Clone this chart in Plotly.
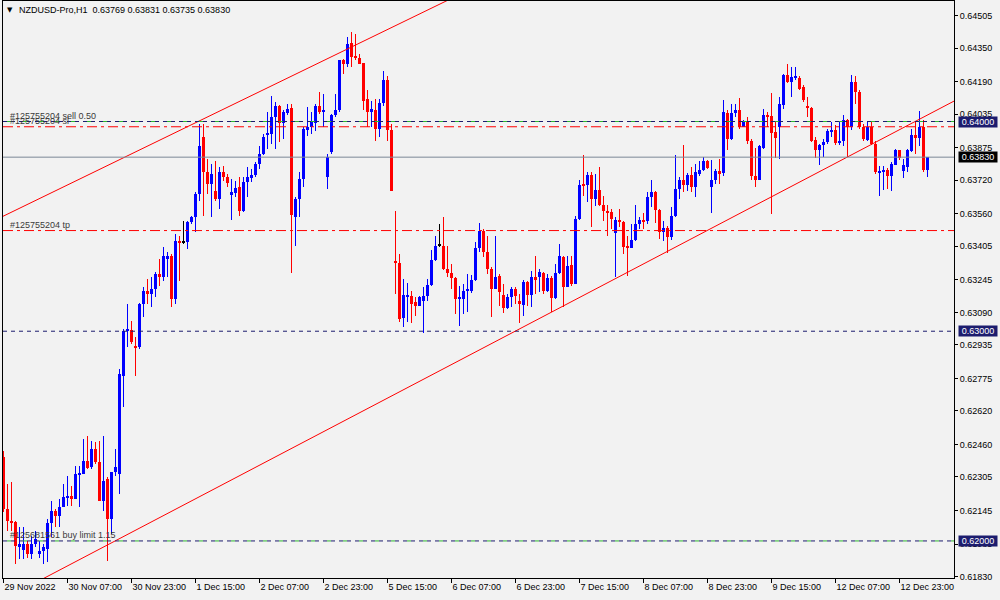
import plotly.graph_objects as go

# ---------------- data (NZDUSD H1) ----------------
opens = [0.62398,0.62152,0.62096,0.62088,0.61969,0.61956,0.61985,0.61937,0.61985,0.61940,
0.61950,0.61961,0.62084,0.62144,0.62120,0.62160,0.62208,0.62216,0.62200,0.62317,
0.62321,0.62379,0.62351,0.62438,0.62375,0.62192,0.62295,0.62104,0.62327,0.62321,
0.62788,0.62999,0.63006,0.62931,0.62923,0.63130,0.63193,0.63177,0.63201,0.63273,
0.63257,0.63344,0.63360,0.63154,0.63432,0.63424,0.63424,0.63519,0.63543,0.63655,
0.63925,0.63758,0.63702,0.63670,0.63631,0.63758,0.63737,0.63651,0.63658,0.63690,
0.63575,0.63711,0.63731,0.63747,0.63798,0.63843,0.63938,0.63941,0.64021,0.64076,
0.63992,0.64040,0.64065,0.63544,0.63631,0.63726,0.63960,0.63973,0.63992,0.64076,
0.64045,0.63734,0.63854,0.64033,0.64053,0.64291,0.64275,0.64375,0.64307,0.64304,
0.64281,0.64105,0.64045,0.64057,0.63962,0.64087,0.64199,0.63960,0.63337,0.63326,
0.63063,0.63167,0.63170,0.63138,0.63121,0.63146,0.63167,0.63222,0.63341,0.63408,
0.63408,0.63297,0.63276,0.63254,0.63154,0.63154,0.63190,0.63194,0.63244,0.63397,
0.63477,0.63376,0.63297,0.63201,0.63265,0.63174,0.63109,0.63165,0.63202,0.63146,
0.63127,0.63236,0.63173,0.63260,0.63257,0.63276,0.63190,0.63254,0.63159,0.63276,
0.63356,0.63213,0.63318,0.63225,0.63535,0.63699,0.63696,0.63747,0.63631,0.63674,
0.63604,0.63575,0.63570,0.63467,0.63532,0.63520,0.63400,0.63397,0.63435,0.63512,
0.63532,0.63524,0.63642,0.63666,0.63580,0.63472,0.63492,0.63448,0.63551,0.63679,
0.63721,0.63699,0.63747,0.63690,0.63750,0.63769,0.63811,0.63687,0.63719,0.63762,
0.63754,0.64040,0.63917,0.64040,0.64053,0.63976,0.64000,0.63909,0.63742,0.63722,
0.63874,0.64033,0.64024,0.63949,0.63976,0.64080,0.64224,0.64188,0.64208,0.64208,
0.64164,0.64076,0.64065,0.63913,0.63865,0.63886,0.63901,0.63949,0.63960,0.63897,
0.63909,0.64005,0.63976,0.64188,0.64140,0.63976,0.63913,0.63976,0.63894,0.63758,
0.63763,0.63769,0.63738,0.63795,0.63862,0.63766,0.63782,0.63859,0.63938,0.63920,
0.63973,0.63769]

highs = [0.62427,0.62271,0.62279,0.62097,0.62065,0.62065,0.62001,0.62025,0.62049,0.62001,
0.61985,0.62104,0.62192,0.62152,0.62200,0.62271,0.62311,0.62263,0.62359,0.62359,
0.62486,0.62502,0.62478,0.62470,0.62478,0.62502,0.62303,0.62327,0.62438,0.62820,
0.63011,0.63130,0.63050,0.62971,0.63133,0.63209,0.63249,0.63257,0.63281,0.63344,
0.63403,0.63376,0.63368,0.63464,0.63456,0.63527,0.63527,0.63551,0.63662,0.63988,
0.63988,0.63822,0.63798,0.63814,0.63782,0.63790,0.63750,0.63726,0.63718,0.63734,
0.63734,0.63782,0.63774,0.63806,0.63881,0.63941,0.64045,0.64124,0.64092,0.64081,
0.64053,0.64084,0.64084,0.63639,0.63758,0.63973,0.64068,0.64045,0.64084,0.64140,
0.64132,0.63846,0.64037,0.64132,0.64294,0.64299,0.64405,0.64426,0.64415,0.64323,
0.64281,0.64148,0.64097,0.64105,0.64108,0.64243,0.64219,0.63989,0.63575,0.63369,
0.63249,0.63230,0.63194,0.63162,0.63170,0.63210,0.63249,0.63388,0.63456,0.63512,
0.63547,0.63408,0.63321,0.63257,0.63218,0.63225,0.63273,0.63270,0.63424,0.63515,
0.63488,0.63456,0.63305,0.63456,0.63273,0.63225,0.63178,0.63209,0.63209,0.63178,
0.63244,0.63241,0.63289,0.63361,0.63297,0.63281,0.63273,0.63265,0.63321,0.63416,
0.63361,0.63361,0.63361,0.63551,0.63721,0.63842,0.63758,0.63758,0.63750,0.63782,
0.63647,0.63600,0.63583,0.63543,0.63583,0.63527,0.63456,0.63512,0.63604,0.63543,
0.63562,0.63663,0.63721,0.63671,0.63583,0.63527,0.63504,0.63594,0.63838,0.63737,
0.63890,0.63753,0.63785,0.63798,0.63814,0.63830,0.63817,0.63817,0.63774,0.63822,
0.64103,0.64053,0.64084,0.64084,0.64113,0.64008,0.64021,0.63917,0.63874,0.63886,
0.64060,0.64045,0.64135,0.63997,0.64119,0.64227,0.64272,0.64259,0.64259,0.64219,
0.64172,0.64116,0.64068,0.63925,0.63894,0.63917,0.63965,0.63997,0.63981,0.63997,
0.64029,0.64013,0.64224,0.64219,0.64148,0.63989,0.63997,0.63997,0.63909,0.63790,
0.63790,0.63779,0.63806,0.63870,0.63865,0.63822,0.63870,0.63965,0.63998,0.64048,
0.64008,0.63831]

lows = [0.62136,0.62049,0.62049,0.61890,0.61914,0.61914,0.61921,0.61914,0.61969,0.61921,
0.61890,0.61898,0.62017,0.62065,0.62065,0.62160,0.62168,0.62168,0.62200,0.62160,
0.62321,0.62343,0.62343,0.62367,0.62192,0.62144,0.61906,0.62033,0.62311,0.62224,
0.62637,0.62923,0.62939,0.62788,0.62915,0.63066,0.63130,0.63114,0.63162,0.63217,
0.63241,0.63257,0.63114,0.63130,0.63241,0.63416,0.63392,0.63511,0.63472,0.63623,
0.63551,0.63655,0.63543,0.63623,0.63583,0.63718,0.63686,0.63531,0.63639,0.63551,
0.63567,0.63639,0.63711,0.63734,0.63774,0.63838,0.63870,0.63893,0.63870,0.63901,
0.63917,0.64029,0.63277,0.63408,0.63544,0.63687,0.63933,0.63941,0.63957,0.64037,
0.63973,0.63676,0.63846,0.64021,0.64045,0.64227,0.64259,0.64262,0.64291,0.64272,
0.64053,0.63973,0.63973,0.63906,0.63925,0.64076,0.63909,0.63668,0.63178,0.63043,
0.63019,0.63043,0.63038,0.63072,0.63121,0.62990,0.63143,0.63214,0.63334,0.63404,
0.63292,0.63257,0.63202,0.63083,0.63027,0.63083,0.63090,0.63181,0.63241,0.63376,
0.63353,0.63273,0.63070,0.63201,0.63122,0.63086,0.63106,0.63117,0.63130,0.63038,
0.63074,0.63122,0.63114,0.63178,0.63186,0.63178,0.63186,0.63090,0.63154,0.63273,
0.63114,0.63209,0.63217,0.63225,0.63531,0.63647,0.63615,0.63496,0.63599,0.63599,
0.63527,0.63456,0.63488,0.63257,0.63496,0.63369,0.63265,0.63397,0.63432,0.63488,
0.63488,0.63512,0.63591,0.63515,0.63440,0.63432,0.63372,0.63435,0.63546,0.63631,
0.63663,0.63671,0.63663,0.63639,0.63742,0.63766,0.63774,0.63563,0.63703,0.63703,
0.63742,0.63865,0.63913,0.64021,0.63965,0.63973,0.63894,0.63722,0.63687,0.63719,
0.63870,0.63973,0.63560,0.63827,0.63822,0.64060,0.64183,0.64116,0.64199,0.64148,
0.64092,0.64021,0.63901,0.63827,0.63793,0.63830,0.63894,0.63925,0.63886,0.63886,
0.63881,0.63830,0.63960,0.64084,0.63965,0.63909,0.63909,0.63886,0.63750,0.63647,
0.63674,0.63679,0.63671,0.63795,0.63817,0.63731,0.63758,0.63855,0.63846,0.63881,
0.63757,0.63735]

closes = [0.62152,0.62096,0.62087,0.61977,0.61985,0.61985,0.61937,0.61985,0.62009,0.61950,
0.61972,0.62084,0.62144,0.62120,0.62160,0.62211,0.62216,0.62200,0.62321,0.62323,
0.62379,0.62347,0.62438,0.62375,0.62192,0.62287,0.62104,0.62327,0.62351,0.62796,
0.63003,0.63009,0.62947,0.62923,0.63130,0.63193,0.63177,0.63201,0.63273,0.63257,
0.63360,0.63360,0.63154,0.63432,0.63422,0.63424,0.63519,0.63543,0.63655,0.63885,
0.63758,0.63702,0.63750,0.63631,0.63758,0.63734,0.63705,0.63662,0.63683,0.63575,
0.63711,0.63734,0.63747,0.63798,0.63843,0.63928,0.63941,0.64021,0.64076,0.63992,
0.64045,0.64060,0.63552,0.63631,0.63726,0.63962,0.63973,0.63997,0.64076,0.64045,
0.64057,0.63833,0.64033,0.64053,0.64291,0.64275,0.64370,0.64307,0.64304,0.64275,
0.64100,0.64045,0.64060,0.63962,0.64087,0.64199,0.63960,0.63668,0.63326,0.63059,
0.63175,0.63170,0.63130,0.63122,0.63165,0.63167,0.63222,0.63341,0.63408,0.63408,
0.63297,0.63276,0.63254,0.63154,0.63157,0.63194,0.63202,0.63244,0.63397,0.63477,
0.63376,0.63297,0.63201,0.63260,0.63186,0.63109,0.63165,0.63202,0.63170,0.63130,
0.63236,0.63173,0.63260,0.63246,0.63281,0.63190,0.63254,0.63159,0.63276,0.63361,
0.63213,0.63313,0.63225,0.63535,0.63699,0.63696,0.63747,0.63631,0.63674,0.63604,
0.63572,0.63567,0.63535,0.63532,0.63520,0.63400,0.63397,0.63435,0.63512,0.63532,
0.63524,0.63642,0.63666,0.63580,0.63472,0.63492,0.63448,0.63551,0.63679,0.63721,
0.63699,0.63747,0.63690,0.63760,0.63769,0.63811,0.63779,0.63719,0.63762,0.63754,
0.64045,0.63917,0.64040,0.64053,0.63976,0.64000,0.63909,0.63738,0.63722,0.63881,
0.64033,0.64021,0.63944,0.63920,0.64084,0.64224,0.64188,0.64211,0.64216,0.64156,
0.64103,0.64065,0.63909,0.63865,0.63886,0.63901,0.63957,0.63960,0.63897,0.63909,
0.64005,0.63976,0.64188,0.64140,0.63976,0.63917,0.63976,0.63894,0.63758,0.63766,
0.63769,0.63738,0.63798,0.63862,0.63825,0.63795,0.63862,0.63938,0.63920,0.63973,
0.63769,0.63830]

x_tick_bars = [0, 16, 32, 48, 64, 80, 96, 112, 128, 144, 160, 176, 192, 208, 224]
x_tick_labels = ["29 Nov 2022", "30 Nov 07:00", "30 Nov 23:00", "1 Dec 15:00", "2 Dec 07:00",
                 "2 Dec 23:00", "5 Dec 15:00", "6 Dec 07:00", "6 Dec 23:00", "7 Dec 15:00",
                 "8 Dec 07:00", "8 Dec 23:00", "9 Dec 15:00", "12 Dec 07:00", "12 Dec 23:00"]
y_tick_values = [0.64505, 0.64350, 0.64190, 0.64035, 0.63875, 0.63720, 0.63560, 0.63405,
                 0.63245, 0.63090, 0.62935, 0.62775, 0.62620, 0.62460, 0.62305, 0.62145,
                 0.61985, 0.61830]

sell_price = 0.64000
sl_price = 0.63975
tp_price = 0.63480
level_price = 0.63000
buy_limit_price = 0.62000
bid_price = 0.63830

upper_channel_bars = [-1, 120]
upper_channel_prices = [0.63540, 0.64661]
lower_channel_bars = [0, 240]
lower_channel_prices = [0.61721, 0.64121]

# ---------------- figure ----------------
n = len(opens)
idx = list(range(n))
colors = []
for o, c in zip(opens, closes):
    if c > o:
        colors.append("#0000ff")
    elif c < o:
        colors.append("#ff0000")
    else:
        colors.append("#000000")

body_base = [min(o, c) for o, c in zip(opens, closes)]
body_h = [max(abs(c - o), 0.00005) for o, c in zip(opens, closes)]
wick_h = [h - l for h, l in zip(highs, lows)]

FONT = "Liberation Sans"
fig = go.Figure()
fig.add_trace(go.Bar(x=idx, y=wick_h, base=lows, width=0.25,
                     marker=dict(color=colors, line=dict(width=0)), hoverinfo="skip"))
fig.add_trace(go.Bar(x=idx, y=body_h, base=body_base, width=0.75,
                     marker=dict(color=colors, line=dict(width=0)), hoverinfo="skip"))

fig.add_trace(go.Scatter(x=upper_channel_bars, y=upper_channel_prices, mode="lines",
                         line=dict(color="#ff0000", width=1), hoverinfo="skip"))
fig.add_trace(go.Scatter(x=lower_channel_bars, y=lower_channel_prices, mode="lines",
                         line=dict(color="#ff0000", width=1), hoverinfo="skip"))

NAVY = "#1c1c6e"
shapes = []
def hline(y, color, dash):
    shapes.append(dict(type="line", xref="paper", x0=0, x1=1, yref="y", y0=y, y1=y,
                       line=dict(color=color, width=1, dash=dash), layer="above"))

hline(bid_price, "#7b8896", "solid")
hline(sl_price, "#ff0000", "10px,4px,3px,4px")
hline(tp_price, "#ff0000", "10px,4px,3px,4px")
hline(level_price, NAVY, "4px,4px")
hline(sell_price, "#2eb82e", "0px,4px,4px,8px")
hline(sell_price, NAVY, "4px,4px")
hline(buy_limit_price, "#2eb82e", "0px,4px,4px,8px")
hline(buy_limit_price, NAVY, "4px,4px")

ann = []
def order_label(text, y, xshift):
    ann.append(dict(text=text, xref="paper", x=0, xanchor="left", xshift=xshift,
                    yref="y", y=y, yanchor="bottom", showarrow=False, borderpad=0,
                    font=dict(family=FONT, size=9, color="#3a3a3a")))

order_label("#125755204 sell 0.50", sell_price, 6)
order_label("#125755204 sl", sl_price, 6)
order_label("#125755204 tp", tp_price, 6)
order_label("#125681561 buy limit 1.15", buy_limit_price, 6)

def price_box(y, bg):
    ann.append(dict(text=f"{y:.5f}", xref="paper", x=1, xanchor="left", xshift=4,
                    yref="y", y=y, yanchor="middle", showarrow=False,
                    bgcolor=bg, width=38, height=10, borderpad=0, align="center",
                    font=dict(family=FONT, size=9, color="#ffffff")))

price_box(sell_price, NAVY)
price_box(bid_price, "#000000")
price_box(level_price, NAVY)
price_box(buy_limit_price, NAVY)

ann.append(dict(text="\u25bc", xref="paper", x=0, xanchor="left", xshift=2,
                yref="paper", y=1, yanchor="middle", yshift=-9, showarrow=False,
                font=dict(family="DejaVu Sans", size=7, color="#000000")))
ann.append(dict(text="NZDUSD-Pro,H1  0.63769 0.63831 0.63735 0.63830", xref="paper", x=0,
                xanchor="left", xshift=14, yref="paper", y=1, yanchor="middle", yshift=-9,
                showarrow=False, font=dict(family=FONT, size=9, color="#000000")))

fig.update_layout(
    width=1000, height=600,
    margin=dict(l=3, r=46, t=1, b=22),
    paper_bgcolor="#f2f2f2", plot_bgcolor="#f2f2f2",
    showlegend=False, barmode="overlay", bargap=0, bargroupgap=0, hovermode=False,
    shapes=shapes, annotations=ann,
    xaxis=dict(range=[-0.125, 237.625], tickmode="array", tickvals=x_tick_bars,
               ticktext=x_tick_labels, ticks="outside", ticklen=4, tickcolor="#000000",
               showline=True, linecolor="#000000", linewidth=1, mirror=True,
               showgrid=False, zeroline=False, ticklabelposition="outside right",
               tickfont=dict(family=FONT, size=9, color="#000000"), fixedrange=True),
    yaxis=dict(side="right", range=[0.618233, 0.645746], tickmode="array",
               tickvals=y_tick_values, ticktext=[f"{v:.5f}" for v in y_tick_values],
               ticks="outside", ticklen=3, tickcolor="#000000",
               showline=True, linecolor="#000000", linewidth=1, mirror=True,
               showgrid=False, zeroline=False,
               tickfont=dict(family=FONT, size=9, color="#000000"), fixedrange=True),
)

fig.write_html("out.html", config={"displayModeBar": False})
